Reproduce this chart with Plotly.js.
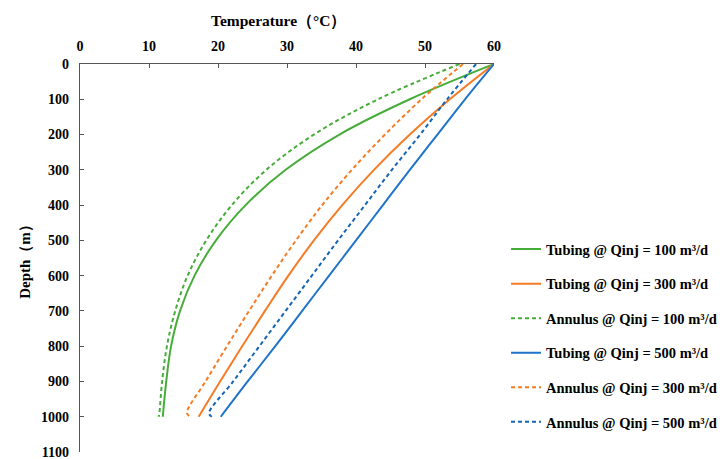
<!DOCTYPE html>
<html>
<head>
<meta charset="utf-8">
<script src="https://cdn.plot.ly/plotly-3.0.1.min.js"></script>
<style>html,body{margin:0;padding:0;background:#fff;}#chart{width:720px;height:459px;}</style>
</head>
<body>
<div id="chart"></div>
<script>
// Depth (m)
const depthTubing  = [0, 100, 200, 300, 400, 500, 600, 700, 800, 900, 1000];
const depthAnnulus = [0, 100, 200, 300, 400, 500, 600, 700, 800, 900, 990, 1000];

// Temperature (°C)
const tubing100  = [60, 47.8, 37.6, 29.8, 24.0, 19.7, 16.6, 14.5, 13.2, 12.5, 12.0];
const tubing300  = [60, 53.6, 47.8, 42.6, 38.0, 33.9, 30.2, 26.8, 23.5, 20.3, 17.2];
const tubing500  = [60, 55.8, 51.8, 47.8, 43.9, 40.0, 36.1, 32.2, 28.3, 24.3, 20.4];
const annulus100 = [55.0, 43.2, 33.9, 27.0, 22.0, 18.3, 15.6, 13.8, 12.6, 11.9, 11.5, 11.4];
const annulus300 = [55.5, 49.5, 44.2, 39.4, 35.1, 31.3, 27.8, 24.5, 21.3, 18.2, 15.5, 16.1];
const annulus500 = [57.4, 53.2, 49.3, 45.2, 41.3, 37.4, 33.6, 29.8, 26.0, 22.2, 18.7, 19.1];

// Axis ticks
const xTicks = [0, 10, 20, 30, 40, 50, 60];
const yTicks = [0, 100, 200, 300, 400, 500, 600, 700, 800, 900, 1000, 1100];

const seriesNames = [
  'Tubing @ Qinj = 100 m³/d',
  'Tubing @ Qinj = 300 m³/d',
  'Annulus @ Qinj = 100 m³/d',
  'Tubing @ Qinj = 500 m³/d',
  'Annulus @ Qinj = 300 m³/d',
  'Annulus @ Qinj = 500 m³/d'
];

const GREEN = '#47ad3a', ORANGE = '#f57b25', BLUE = '#1f73c9', BLUE_D = '#1565b5';
const DASH = '4px,3px';

function tr(x, y, name, color, dash, g) {
  return {
    x: x, y: y, name: '<b>' + name + '</b>', type: 'scatter', mode: 'lines',
    line: {color: color, width: 2, dash: dash, shape: 'spline', smoothing: 1},
    legendgroup: g, hoverinfo: 'skip'
  };
}

const data = [
  tr(tubing100, depthTubing, seriesNames[0], GREEN, 'solid', 'a'),
  tr(tubing300, depthTubing, seriesNames[1], ORANGE, 'solid', 'b'),
  tr(annulus100, depthAnnulus, seriesNames[2], GREEN, DASH, 'c'),
  tr(tubing500, depthTubing, seriesNames[3], BLUE, 'solid', 'd'),
  tr(annulus300, depthAnnulus, seriesNames[4], ORANGE, DASH, 'e'),
  tr(annulus500, depthAnnulus, seriesNames[5], BLUE_D, DASH, 'f')
];

const FONT = '"Liberation Serif", "Times New Roman", serif';
const bold = v => '<b>' + v + '</b>';

const layout = {
  width: 720, height: 459,
  margin: {l: 80, r: 226, t: 64, b: 7},
  paper_bgcolor: '#fff', plot_bgcolor: '#fff',
  font: {family: FONT, size: 14, color: '#000'},
  showlegend: true,
  xaxis: {
    side: 'top', range: [0, 60],
    tickmode: 'array', tickvals: xTicks, ticktext: xTicks.map(bold),
    showgrid: false, zeroline: false,
    showline: true, linecolor: '#555', linewidth: 1.3,
    ticks: 'inside', ticklen: 4, tickcolor: '#555', ticklabelstandoff: 6,
    tickfont: {family: FONT, size: 14, color: '#000'}
  },
  yaxis: {
    range: [1100, 0],
    tickmode: 'array', tickvals: yTicks, ticktext: yTicks.map(bold),
    showgrid: false, zeroline: false,
    showline: true, linecolor: '#555', linewidth: 1.3,
    ticks: 'inside', ticklen: 4, tickcolor: '#555', ticklabelstandoff: 7,
    ticklabeloverflow: 'allow',
    tickfont: {family: FONT, size: 14, color: '#000'},
    title: {text: '<b>Depth（m）</b>', font: {family: FONT, size: 15, color: '#000'}, standoff: 6}
  },
  annotations: [{
    text: '<b>Temperature（°C）</b>', xref: 'paper', yref: 'paper',
    x: 0.481, y: 1.112, xanchor: 'center', yanchor: 'middle', showarrow: false,
    font: {family: FONT, size: 15.5, color: '#000'}
  }],
  legend: {
    xref: 'container', yref: 'container',
    x: 0.7028, xanchor: 'left', y: 0.492, yanchor: 'top',
    font: {family: FONT, size: 14.5, color: '#000'},
    tracegroupgap: 12.7, bgcolor: 'rgba(0,0,0,0)'
  }
};

Plotly.newPlot('chart', data, layout, {staticPlot: true, displayModeBar: false});
</script>
</body>
</html>
